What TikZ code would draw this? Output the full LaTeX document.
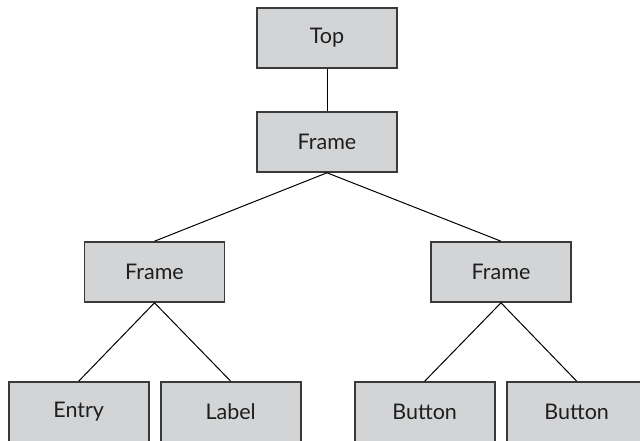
\documentclass[tikz,border=0pt]{standalone}
\usepackage{fontspec}
\setmainfont{Lato}
\definecolor{boxfill}{HTML}{D3D4D6}
\definecolor{boxline}{HTML}{3A3A3A}
\definecolor{txt}{HTML}{1E1E1E}
\begin{document}
\begin{tikzpicture}[x=1pt,y=-1pt,
  widget/.style={draw=boxline, line width=1.6pt, fill=boxfill,
    minimum width=140pt, minimum height=60pt, inner sep=0pt,
    text=txt, font=\fontsize{21.5}{24}\selectfont},
  link/.style={draw=black, line width=1pt}]
\useasboundingbox (0,0) rectangle (640,441);
\node[widget] (top)    at (327,38)    {Top};
\node[widget] (frame)  at (327,142)   {Frame};
\node[widget] (fleft)  at (154.5,272) {Frame};
\node[widget] (fright) at (501,272)   {Frame};
\node[widget] (entry)  at (78.7,412)  {Entry};
\node[widget] (label)  at (230.7,412) {Label};
\node[widget] (btna)   at (424.7,412) {Button};
\node[widget] (btnb)   at (576.7,412) {Button};
\draw[link] (top.south) -- (frame.north);
\draw[link] (frame.south) -- (fleft.north);
\draw[link] (frame.south) -- (fright.north);
\draw[link] (fleft.south) -- (entry.north);
\draw[link] (fleft.south) -- (label.north);
\draw[link] (fright.south) -- (btna.north);
\draw[link] (fright.south) -- (btnb.north);
\end{tikzpicture}
\end{document}
